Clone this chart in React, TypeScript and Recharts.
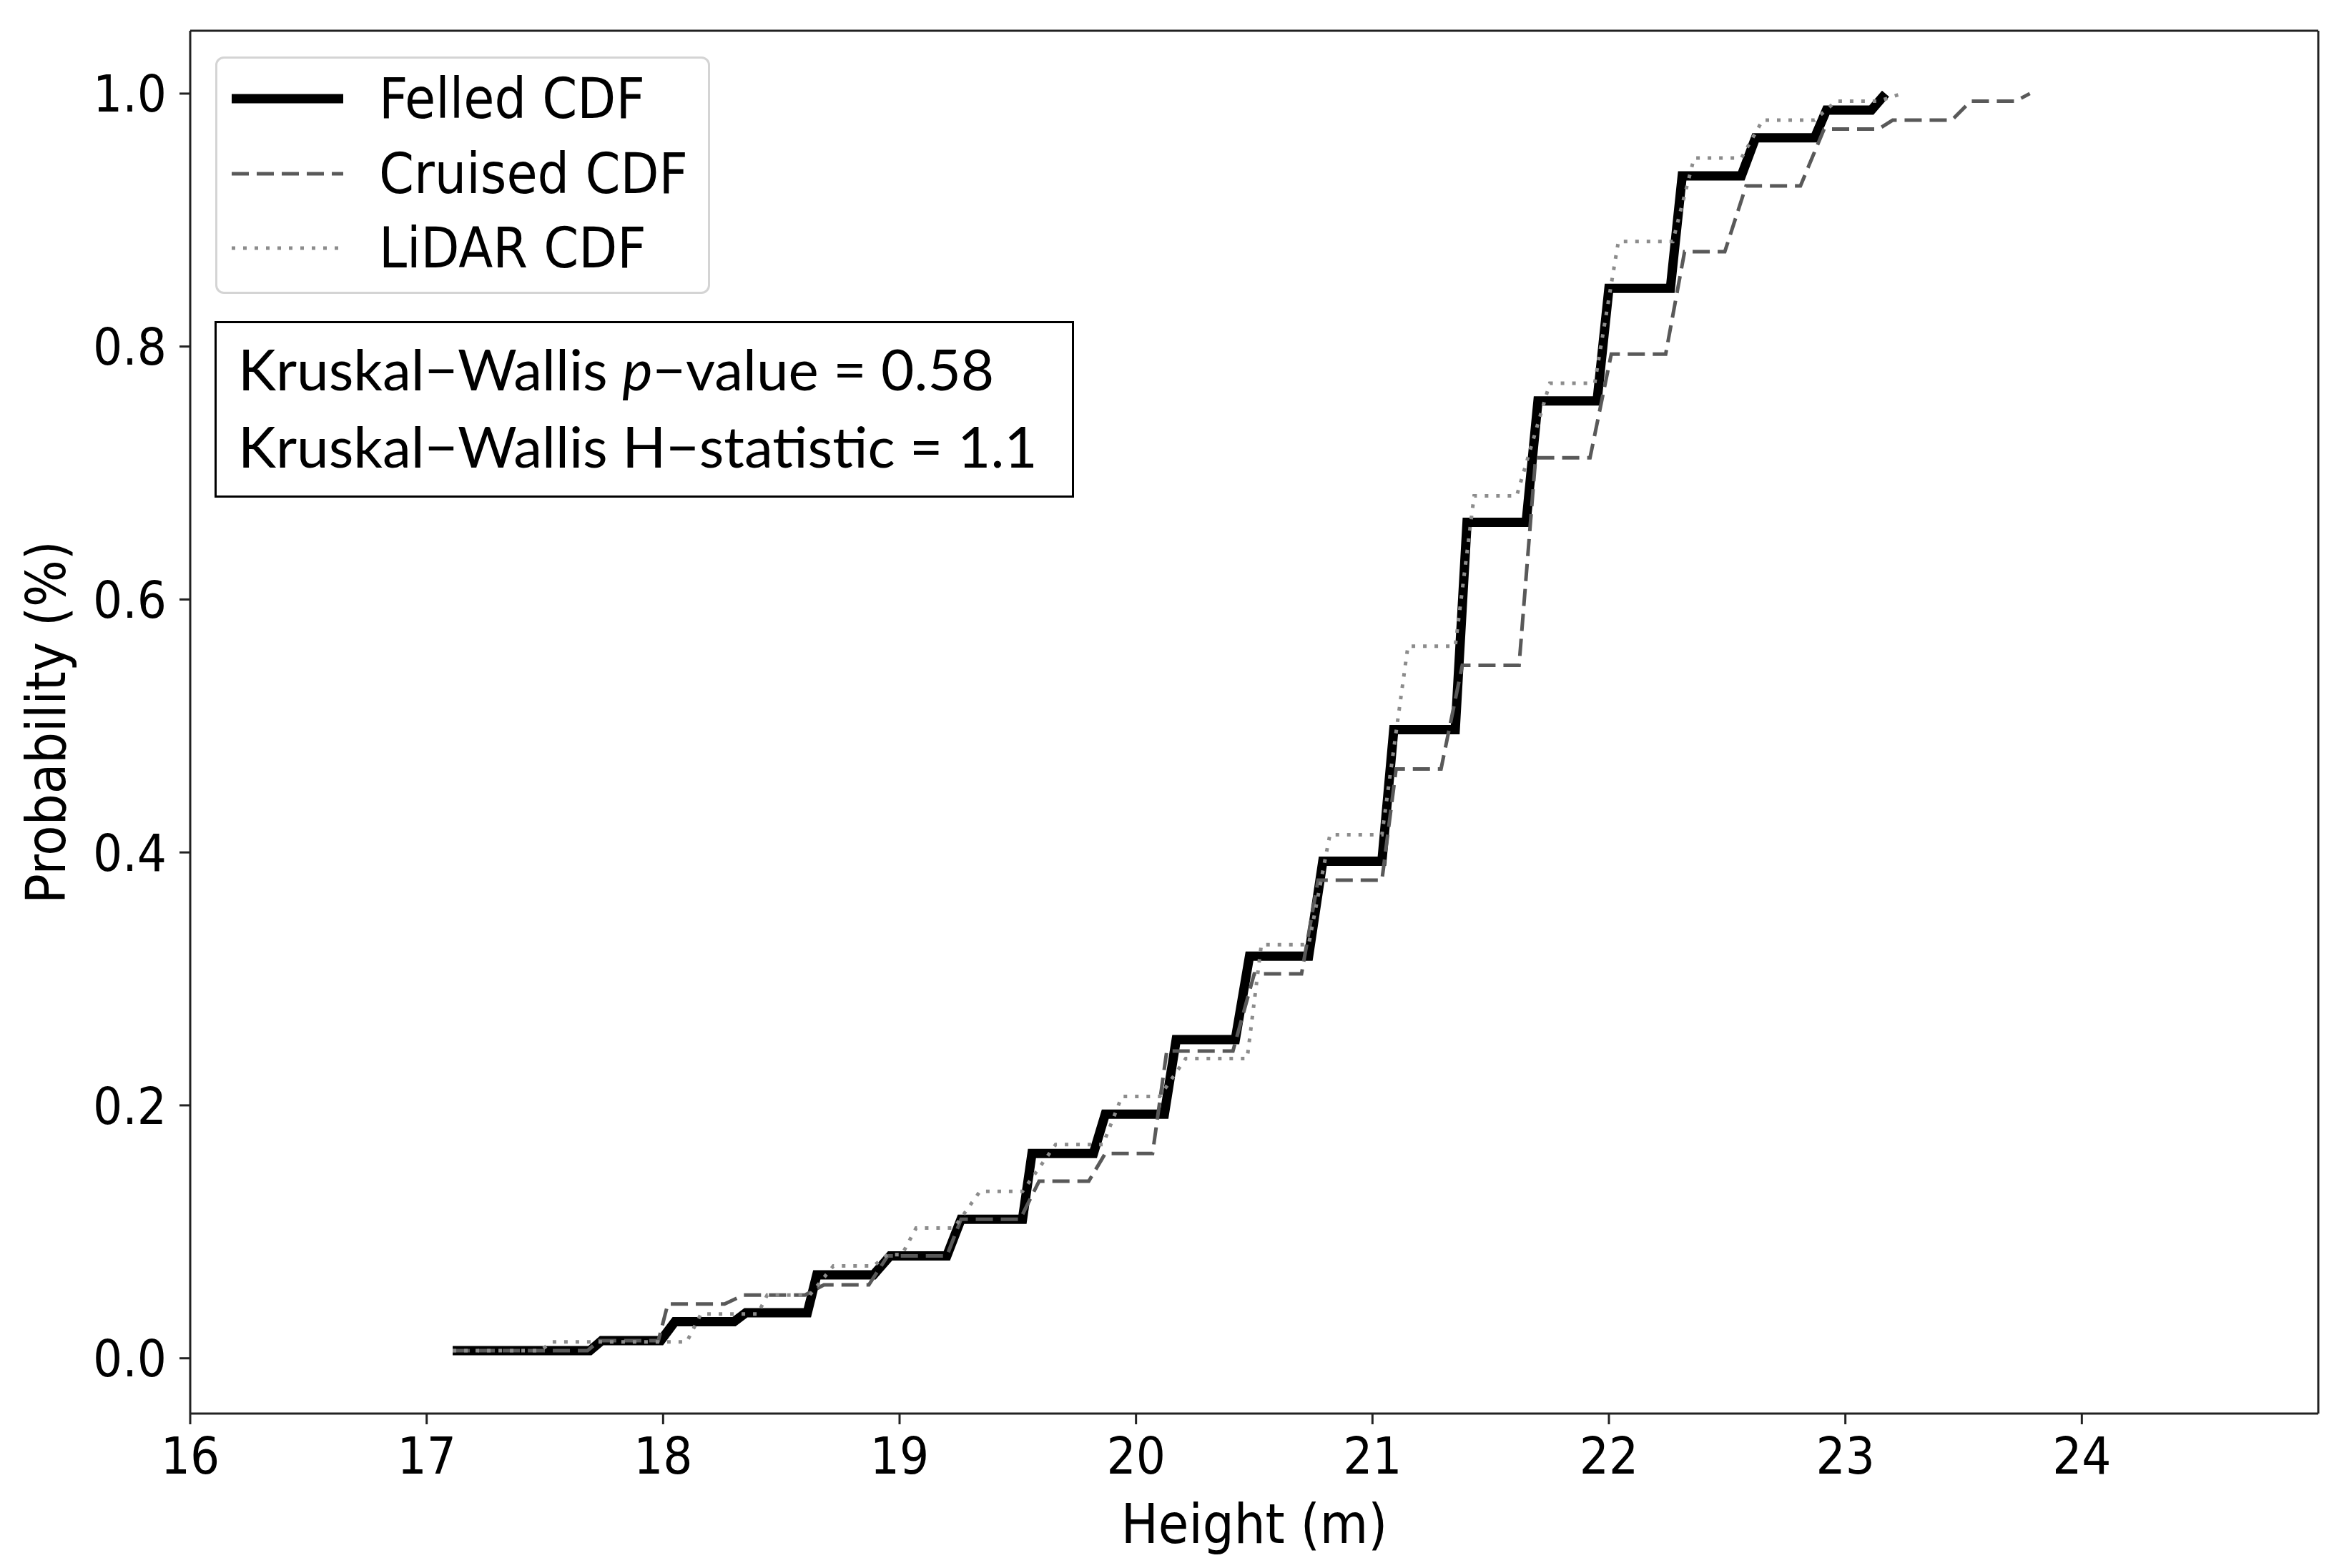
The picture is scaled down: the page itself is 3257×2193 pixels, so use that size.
import React from 'react'
import { LineChart, Line, XAxis, YAxis, Legend, ReferenceLine } from 'recharts'

// Heights (m) and cumulative probability at each vertex of the three CDF curves
const felledHeight = [
  17.11, 17.69, 17.74, 17.99, 18.05, 18.3, 18.35, 18.61, 18.65, 18.89, 18.96, 19.2,
  19.26, 19.52, 19.56, 19.82, 19.87, 20.12, 20.17, 20.42, 20.48, 20.73, 20.79, 21.04,
  21.09, 21.35, 21.4, 21.65, 21.7, 21.95, 22.0, 22.26, 22.31, 22.56, 22.62, 22.87,
  22.92, 23.11, 23.17,
]
const felledProb = [
  0.006, 0.006, 0.014, 0.014, 0.029, 0.029, 0.036, 0.036, 0.066, 0.066, 0.081, 0.081,
  0.11, 0.11, 0.162, 0.162, 0.193, 0.193, 0.252, 0.252, 0.318, 0.318, 0.393, 0.393,
  0.497, 0.497, 0.661, 0.661, 0.757, 0.757, 0.846, 0.846, 0.935, 0.935, 0.965, 0.965,
  0.987, 0.987, 1.0,
]

const cruisedHeight = [
  17.11, 17.68, 17.73, 17.98, 18.02, 18.26, 18.34, 18.6, 18.68, 18.87, 18.95, 19.2,
  19.26, 19.51, 19.59, 19.8, 19.87, 20.07, 20.13, 20.41, 20.5, 20.7, 20.77, 21.04,
  21.1, 21.29, 21.38, 21.62, 21.69, 21.92, 22.01, 22.24, 22.32, 22.49, 22.58, 22.81,
  22.91, 23.14, 23.2, 23.45, 23.53, 23.72, 23.78,
]
const cruisedProb = [
  0.006, 0.006, 0.014, 0.014, 0.043, 0.043, 0.05, 0.05, 0.058, 0.058, 0.081, 0.081,
  0.11, 0.11, 0.14, 0.14, 0.162, 0.162, 0.243, 0.243, 0.304, 0.304, 0.378, 0.378,
  0.466, 0.466, 0.548, 0.548, 0.712, 0.712, 0.794, 0.794, 0.875, 0.875, 0.927, 0.927,
  0.972, 0.972, 0.979, 0.979, 0.994, 0.994, 1.0,
]

const lidarHeight = [
  17.11, 17.48, 17.53, 18.1, 18.16, 18.4, 18.44, 18.62, 18.72, 18.89, 18.95, 19.01,
  19.07, 19.23, 19.34, 19.52, 19.66, 19.86, 19.94, 20.1, 20.21, 20.47, 20.53, 20.73,
  20.82, 21.04, 21.15, 21.35, 21.43, 21.61, 21.75, 21.94, 22.04, 22.27, 22.36, 22.56,
  22.65, 22.87, 22.96, 23.14, 23.24,
]
const lidarProb = [
  0.006, 0.006, 0.013, 0.013, 0.035, 0.035, 0.05, 0.05, 0.073, 0.073, 0.082, 0.082,
  0.103, 0.103, 0.132, 0.132, 0.169, 0.169, 0.207, 0.207, 0.237, 0.237, 0.327, 0.327,
  0.414, 0.414, 0.563, 0.563, 0.682, 0.682, 0.771, 0.771, 0.883, 0.883, 0.949, 0.949,
  0.979, 0.979, 0.994, 0.994, 1.0,
]

const xTicks = [16, 17, 18, 19, 20, 21, 22, 23, 24]
const yTicks = [0, 0.2, 0.4, 0.6, 0.8, 1.0]
const xDomain = [16, 25]
const yDomain = [-0.0437, 1.0497]

const toPoints = (xs: number[], ys: number[]) => xs.map((x, i) => ({ x, y: ys[i] }))

const series = [
  { name: 'Felled CDF', data: toPoints(felledHeight, felledProb), stroke: '#000', width: 13, dash: undefined },
  { name: 'Cruised CDF', data: toPoints(cruisedHeight, cruisedProb), stroke: '#595959', width: 5, dash: '24 11' },
  { name: 'LiDAR CDF', data: toPoints(lidarHeight, lidarProb), stroke: '#8c8c8c', width: 5, dash: '5 11' },
]

const W = 3257
const H = 2193
const FONT = '"DejaVu Sans Condensed", "DejaVu Sans", sans-serif'
const BOX_FONT = 'Lato, "Open Sans", sans-serif'
const AXIS = '#222'

const renderLegend = () => (
  <div
    style={{
      width: 692,
      height: 332,
      boxSizing: 'border-box',
      border: '3px solid #d4d4d4',
      borderRadius: 12,
      background: 'rgba(255,255,255,0.85)',
      position: 'relative',
    }}
  >
    {series.map((s, i) => (
      <div key={s.name} style={{ position: 'absolute', left: 0, top: 56 + i * 104.5 - 40, height: 80, display: 'flex', alignItems: 'center' }}>
        <svg width={160} height={20} style={{ marginLeft: 20 }}>
          <line x1={0} x2={156} y1={10} y2={10} stroke={s.stroke} strokeWidth={s.width} strokeDasharray={s.dash} />
        </svg>
        <span style={{ marginLeft: 46, fontFamily: FONT, fontStretch: 'condensed', fontSize: 78, color: '#000', lineHeight: '80px', whiteSpace: 'nowrap' }}>
          {s.name}
        </span>
      </div>
    ))}
  </div>
)

const YLabel = ({ viewBox }: any) => {
  const cy = viewBox.y + viewBox.height / 2
  return (
    <text x={64} y={cy} transform={`rotate(-90, 64, ${cy})`} textAnchor="middle" dominantBaseline="central" fontFamily={FONT} fontSize={77} fill="#000">
      Probability (%)
    </text>
  )
}

const XLabel = ({ viewBox }: any) => {
  const cx = viewBox.x + viewBox.width / 2
  return (
    <text x={cx} y={2131} textAnchor="middle" dominantBaseline="central" fontFamily={FONT} fontSize={77} fill="#000">
      Height (m)
    </text>
  )
}

export default function App() {
  return (
    <div style={{ position: 'absolute', left: 0, top: 0, width: W, height: H, background: '#fff' }}>
      <LineChart width={W} height={H} margin={{ top: 43, right: 15, bottom: 116, left: 66 }}>
        <XAxis
          type="number"
          dataKey="x"
          domain={xDomain}
          ticks={xTicks}
          allowDataOverflow
          height={100}
          tick={{ fill: '#000', fontSize: 72, fontFamily: FONT }}
          tickSize={15}
          tickMargin={18}
          axisLine={{ stroke: AXIS, strokeWidth: 3 }}
          tickLine={{ stroke: AXIS, strokeWidth: 3 }}
          label={<XLabel />}
        />
        <YAxis
          type="number"
          domain={yDomain}
          ticks={yTicks}
          allowDataOverflow
          width={200}
          tick={{ fill: '#000', fontSize: 72, fontFamily: FONT }}
          tickFormatter={(v: number) => v.toFixed(1)}
          tickSize={15}
          tickMargin={18}
          axisLine={{ stroke: AXIS, strokeWidth: 3 }}
          tickLine={{ stroke: AXIS, strokeWidth: 3 }}
          label={<YLabel />}
        />
        <ReferenceLine y={yDomain[1]} stroke={AXIS} strokeWidth={3} />
        <ReferenceLine x={xDomain[1]} stroke={AXIS} strokeWidth={3} />
        <Legend
          layout="vertical"
          align="center"
          verticalAlign="middle"
          content={renderLegend}
          wrapperStyle={{ left: 301, top: 79, width: 692, height: 332 }}
        />
        {series.map((s) => (
          <Line
            key={s.name}
            data={s.data}
            dataKey="y"
            name={s.name}
            type="linear"
            stroke={s.stroke}
            strokeWidth={s.width}
            strokeDasharray={s.dash}
            strokeLinejoin="miter"
            dot={false}
            activeDot={false}
            isAnimationActive={false}
          />
        ))}
      </LineChart>
      <div
        style={{
          position: 'absolute',
          left: 300,
          top: 449,
          width: 1202,
          height: 247,
          boxSizing: 'border-box',
          border: '3px solid #000',
          background: '#fff',
          fontFamily: BOX_FONT,
          fontSize: 80,
          color: '#000',
          paddingLeft: 30,
          paddingTop: 9,
          lineHeight: '108px',
          whiteSpace: 'nowrap',
        }}
      >
        <div>
          Kruskal−Wallis <i>p</i>−value = 0.58
        </div>
        <div>Kruskal−Wallis H−statistic = 1.1</div>
      </div>
    </div>
  )
}
